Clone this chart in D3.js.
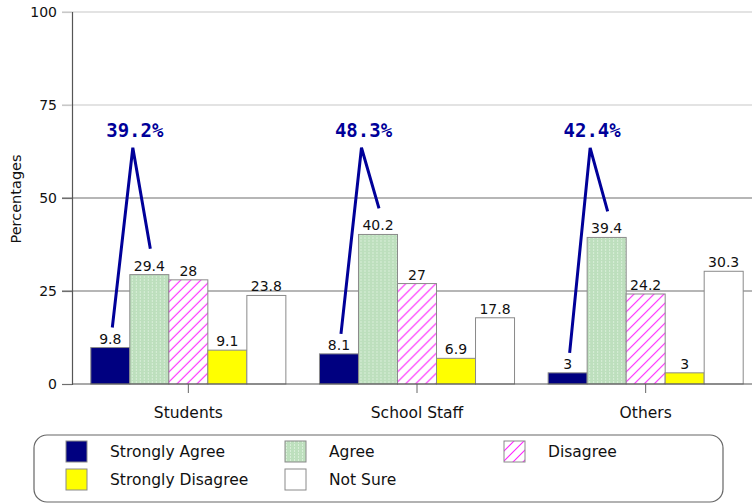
<!DOCTYPE html>
<html>
<head>
<meta charset="utf-8">
<script src="https://cdn.jsdelivr.net/npm/d3@7"></script>
<style>
  body { margin: 0; background: #fff; }
  svg { display: block; font-family: "DejaVu Sans", Verdana, sans-serif; }
</style>
</head>
<body>
<svg id="chart" width="752" height="504"></svg>
<script>
const categories = ['Students', 'School Staff', 'Others']
const series = ['Strongly Agree', 'Agree', 'Disagree', 'Strongly Disagree', 'Not Sure']
const strongly_agree = [9.8, 8.1, 3]
const agree = [29.4, 40.2, 39.4]
const disagree = [28, 27, 24.2]
const strongly_disagree = [9.1, 6.9, 3]
const not_sure = [23.8, 17.8, 30.3]
const y_ticks = [0, 25, 50, 75, 100]

const values = [strongly_agree, agree, disagree, strongly_disagree, not_sure]
const fills = ['#000080', 'url(#agree-dots)', 'url(#disagree-hatch)', '#ffff00', '#ffffff']
const font = '"DejaVu Sans", Verdana, sans-serif'

const svg = d3.select('#chart')

// patterns
const defs = svg.append('defs')
const dots = defs.append('pattern')
  .attr('id', 'agree-dots')
  .attr('patternUnits', 'userSpaceOnUse')
  .attr('width', 4).attr('height', 3)
dots.append('rect').attr('width', 4).attr('height', 3).attr('fill', '#bddfbd')
dots.append('rect').attr('x', 1).attr('y', 0).attr('width', 1).attr('height', 2).attr('fill', '#d8eed8')

const hatch = defs.append('pattern')
  .attr('id', 'disagree-hatch')
  .attr('patternUnits', 'userSpaceOnUse')
  .attr('width', 10).attr('height', 10)
hatch.append('rect').attr('width', 10).attr('height', 10).attr('fill', '#fff')
hatch.append('path')
  .attr('d', 'M -1 11 L 11 -1 M -3 3 L 3 -3 M 7 13 L 13 7')
  .attr('stroke', '#ff22ff').attr('stroke-width', 1.1)

const x = d3.scaleBand().domain(categories).range([74, 760]).paddingInner(0.147).paddingOuter(0.0735)
const xs = d3.scaleBand().domain(series).range([0, x.bandwidth()])
const y = d3.scaleLinear().domain([0, 100]).range([384, 12])

// gridlines
svg.append('g').selectAll('line')
  .data(y_ticks.filter((t)=> t > 0))
  .enter().append('line')
  .attr('x1', 62).attr('x2', 752)
  .attr('y1', (d)=> y(d)).attr('y2', (d)=> y(d))
  .attr('stroke', (d)=> d > 50 ? '#c8c8c8' : '#6e6e6e')
  .attr('stroke-width', 1.2)

// y axis
const y_axis = svg.append('g')
  .attr('transform', 'translate(72,0)')
  .call(d3.axisLeft(y).tickValues(y_ticks).tickSize(10).tickPadding(5))
y_axis.select('.domain').attr('stroke', '#555').attr('stroke-width', 1.2)
y_axis.selectAll('.tick line').attr('stroke', (d)=> d > 50 ? '#c8c8c8' : '#6e6e6e').attr('stroke-width', 1.2)
y_axis.selectAll('.tick text').attr('font-size', 14).attr('fill', '#111')
  .attr('font-family', font)

svg.append('text')
  .attr('transform', 'translate(21,199) rotate(-90)')
  .attr('text-anchor', 'middle')
  .attr('font-size', 14.5)
  .attr('fill', '#111')
  .text('Percentages')

// bars
const groups = svg.append('g').selectAll('g')
  .data(categories)
  .enter().append('g')
  .attr('transform', (d)=> `translate(${x(d)},0)`)

groups.each(function(cat, ci) {
  const g = d3.select(this)
  const rows = series.map((s, si)=> ({ s, si, v: values[si][ci] }))
  g.selectAll('rect')
    .data(rows)
    .enter().append('rect')
    .attr('x', (d)=> xs(d.s))
    .attr('y', (d)=> y(d.v))
    .attr('width', xs.bandwidth())
    .attr('height', (d)=> y(0) - y(d.v))
    .attr('fill', (d)=> fills[d.si])
    .attr('stroke', '#8a8a8a')
    .attr('stroke-width', 1)
  g.selectAll('.val')
    .data(rows)
    .enter().append('text')
    .attr('class', 'val')
    .attr('x', (d)=> xs(d.s) + xs.bandwidth() / 2)
    .attr('y', (d)=> y(d.v) - 4)
    .attr('text-anchor', 'middle')
    .attr('font-size', 14)
    .attr('fill', '#111')
    .text((d)=> d.v)
})

// baseline and category axis
const x_axis = svg.append('g')
  .attr('transform', `translate(0,${y(0)})`)
  .call(d3.axisBottom(x).tickSize(9).tickPadding(14))
x_axis.select('.domain').remove()
x_axis.selectAll('.tick line').attr('stroke', '#666')
x_axis.selectAll('.tick text').attr('font-size', 15.5).attr('fill', '#111')
  .attr('font-family', font)
svg.append('line')
  .attr('x1', 72).attr('x2', 752)
  .attr('y1', y(0)).attr('y2', y(0))
  .attr('stroke', '#555').attr('stroke-width', 1.2)

// agree + strongly agree callouts
const callouts = svg.append('g')
categories.forEach((cat, ci)=> {
  const sa_x = x(cat) + xs(series[0]) + xs.bandwidth() / 2
  const a_x = x(cat) + xs(series[1]) + xs.bandwidth() / 2
  const apex_x = (sa_x + a_x) / 2 + 3
  const apex_y = y(63.5)
  const total = strongly_agree[ci] + agree[ci]
  callouts.append('polyline')
    .attr('points', [
      [sa_x + 2, y(strongly_agree[ci]) - 20],
      [apex_x, apex_y],
      [a_x + 1, y(agree[ci]) - 26]
    ].map((p)=> p.join(',')).join(' '))
    .attr('fill', 'none')
    .attr('stroke', '#000099')
    .attr('stroke-width', 3)
  callouts.append('text')
    .attr('x', apex_x + 2)
    .attr('y', apex_y - 11)
    .attr('text-anchor', 'middle')
    .attr('font-family', '"DejaVu Sans Mono", monospace')
    .attr('font-weight', 'bold')
    .attr('font-size', 19)
    .attr('fill', '#000099')
    .text(`${total.toFixed(1)}%`)
})

// legend
const legend = svg.append('g')
legend.append('rect')
  .attr('x', 34).attr('y', 435).attr('width', 689).attr('height', 67)
  .attr('rx', 13)
  .attr('fill', '#fff').attr('stroke', '#666').attr('stroke-width', 1.2)

const item = legend.selectAll('g.item')
  .data(series)
  .enter().append('g')
  .attr('class', 'item')
  .attr('transform', (d, i)=> `translate(${66 + (i % 3) * 219},${441 + Math.floor(i / 3) * 28})`)
item.append('rect')
  .attr('width', 21).attr('height', 21)
  .attr('fill', (d, i)=> fills[i])
  .attr('stroke', '#8a8a8a')
item.append('text')
  .attr('x', 44).attr('y', 16)
  .attr('font-size', 15.5)
  .attr('fill', '#111')
  .text((d)=> d)
</script>
</body>
</html>
